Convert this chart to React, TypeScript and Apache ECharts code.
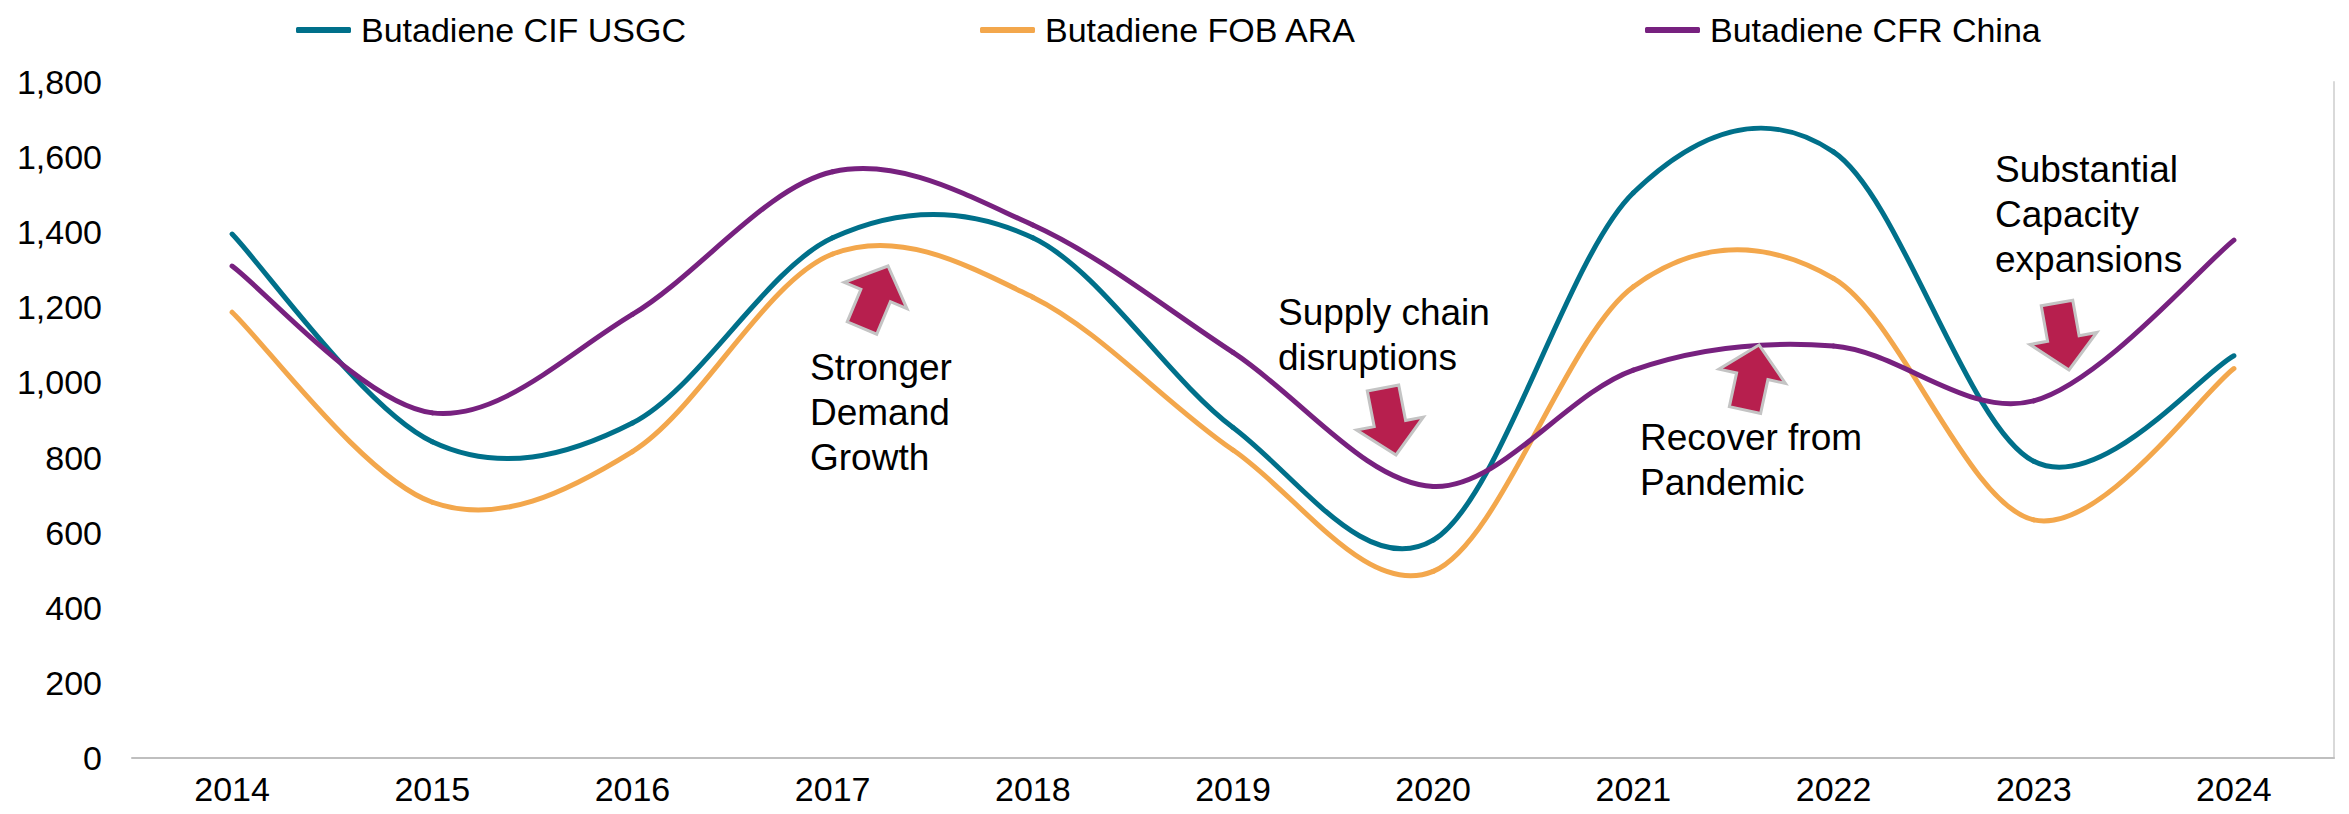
import React, { useEffect, useRef } from 'react';
import * as echarts from 'echarts';

// ---------- data ----------
const years = ['2014', '2015', '2016', '2017', '2018', '2019', '2020', '2021', '2022', '2023', '2024'];
const cifUSGC = [1395, 842, 892, 1385, 1385, 880, 580, 1505, 1614, 790, 1071];
const fobARA = [1187, 681, 816, 1342, 1227, 820, 497, 1255, 1277, 634, 1037];
const cfrChina = [1310, 919, 1181, 1561, 1419, 1080, 723, 1033, 1097, 951, 1379];
const seriesNames = ['Butadiene CIF USGC', 'Butadiene FOB ARA', 'Butadiene CFR China'];
const seriesColors = ['#00708A', '#F3A74C', '#77217F'];
const yMin = 0;
const yMax = 1800;
const yInterval = 200;

// annotations
const notes = [
  { text: 'Stronger\nDemand\nGrowth', x: 810, y: 345 },
  { text: 'Supply chain\ndisruptions', x: 1278, y: 290 },
  { text: 'Recover from\nPandemic', x: 1640, y: 415 },
  { text: 'Substantial\nCapacity\nexpansions', x: 1995, y: 147 },
];
const arrows = [
  { base: [862, 328], tip: [888, 266] },
  { base: [1383, 388], tip: [1396, 455] },
  { base: [1745, 410], tip: [1759, 345] },
  { base: [2057, 303], tip: [2069, 370] },
];

const FONT = '"Liberation Sans", Arial, Helvetica, sans-serif';

function arrowPoints(base: number[], tip: number[]) {
  const sw = 32, hw = 68, hl = 32;
  const dx = tip[0] - base[0], dy = tip[1] - base[1];
  const len = Math.sqrt(dx * dx + dy * dy);
  const ux = dx / len, uy = dy / len;
  const nx = -uy, ny = ux;
  const neck = [tip[0] - ux * hl, tip[1] - uy * hl];
  return [
    [base[0] + nx * sw / 2, base[1] + ny * sw / 2],
    [neck[0] + nx * sw / 2, neck[1] + ny * sw / 2],
    [neck[0] + nx * hw / 2, neck[1] + ny * hw / 2],
    [tip[0], tip[1]],
    [neck[0] - nx * hw / 2, neck[1] - ny * hw / 2],
    [neck[0] - nx * sw / 2, neck[1] - ny * sw / 2],
    [base[0] - nx * sw / 2, base[1] - ny * sw / 2],
  ];
}

function makeSeries(name: string, arr: number[], color: string) {
  return {
    type: 'custom',
    name,
    coordinateSystem: 'cartesian2d',
    xAxisIndex: 0,
    yAxisIndex: 0,
    clip: false,
    itemStyle: { color },
    encode: { x: 0, y: 1 },
    data: arr.map((v, i) => [i, v]),
    renderItem: (params: any, api: any) => {
      const i = params.dataIndex;
      const n = arr.length;
      if (i >= n - 1) return null;
      const c = (j: number) => {
        const k = Math.max(0, Math.min(n - 1, j));
        return api.coord([k, arr[k]]);
      };
      const p0 = c(i - 1), p1 = c(i), p2 = c(i + 1), p3 = c(i + 2);
      return {
        type: 'bezierCurve',
        shape: {
          x1: p1[0], y1: p1[1], x2: p2[0], y2: p2[1],
          cpx1: p1[0] + (p2[0] - p0[0]) / 6,
          cpy1: p1[1] + (p2[1] - p0[1]) / 6,
          cpx2: p2[0] - (p3[0] - p1[0]) / 6,
          cpy2: p2[1] - (p3[1] - p1[1]) / 6,
        },
        style: { stroke: color, lineWidth: 5, fill: null, lineCap: 'round' },
      };
    },
  };
}

export default function App() {
  const ref = useRef<HTMLDivElement>(null);
  useEffect(() => {
    if (!ref.current) return;
    const chart = echarts.init(ref.current, null, { renderer: 'svg' });
    const legendLefts = [291, 975, 1640];
    const option: any = {
      animation: false,
      backgroundColor: '#ffffff',
      textStyle: { fontFamily: FONT },
      grid: { left: 132, right: 15, top: 82, bottom: 56, containLabel: false },
      legend: seriesNames.map((nm, i) => ({
        data: [nm],
        left: legendLefts[i],
        top: 8,
        icon: 'roundRect',
        itemWidth: 55,
        itemHeight: 6,
        selectedMode: false,
        textStyle: { fontFamily: FONT, fontSize: 34, color: '#000', padding: [0, 0, 0, 5], lineHeight: 34 },
      })),
      xAxis: {
        type: 'category',
        data: years,
        boundaryGap: true,
        axisLine: { show: true, lineStyle: { color: '#BFBFBF', width: 2 } },
        axisTick: { show: false },
        axisLabel: { color: '#000', fontSize: 34, fontFamily: FONT, margin: 14 },
        splitLine: { show: false },
      },
      yAxis: [
        {
          type: 'value',
          min: yMin,
          max: yMax,
          interval: yInterval,
          axisLine: { show: false },
          axisTick: { show: false },
          splitLine: { show: false },
          axisLabel: {
            color: '#000',
            fontSize: 34,
            fontFamily: FONT,
            margin: 30,
            formatter: (v: number) => v.toLocaleString('en-US'),
          },
        },
        {
          type: 'value',
          position: 'right',
          min: yMin,
          max: yMax,
          interval: yInterval,
          axisLine: { show: true, lineStyle: { color: '#D9D9D9', width: 2 } },
          axisTick: { show: false },
          axisLabel: { show: false },
          splitLine: { show: false },
        },
      ],
      series: [
        makeSeries(seriesNames[0], cifUSGC, seriesColors[0]),
        makeSeries(seriesNames[1], fobARA, seriesColors[1]),
        makeSeries(seriesNames[2], cfrChina, seriesColors[2]),
      ],
      graphic: [
        ...notes.map((n) => ({
          type: 'text',
          x: n.x,
          y: n.y,
          z: 100,
          style: {
            text: n.text,
            fill: '#000',
            font: `37px ${FONT}`,
            lineHeight: 45,
            verticalAlign: 'top',
            align: 'left',
          },
        })),
        ...arrows.map((a) => ({
          type: 'polygon',
          z: 100,
          shape: { points: arrowPoints(a.base, a.tip) },
          style: { fill: '#B71F4E', stroke: '#C4C4C4', lineWidth: 3, lineJoin: 'miter' },
        })),
      ],
    };
    chart.setOption(option);
    return () => chart.dispose();
  }, []);
  return (
    <div
      ref={ref}
      style={{ position: 'absolute', left: 0, top: 0, width: '2349px', height: '814px' }}
    />
  );
}
